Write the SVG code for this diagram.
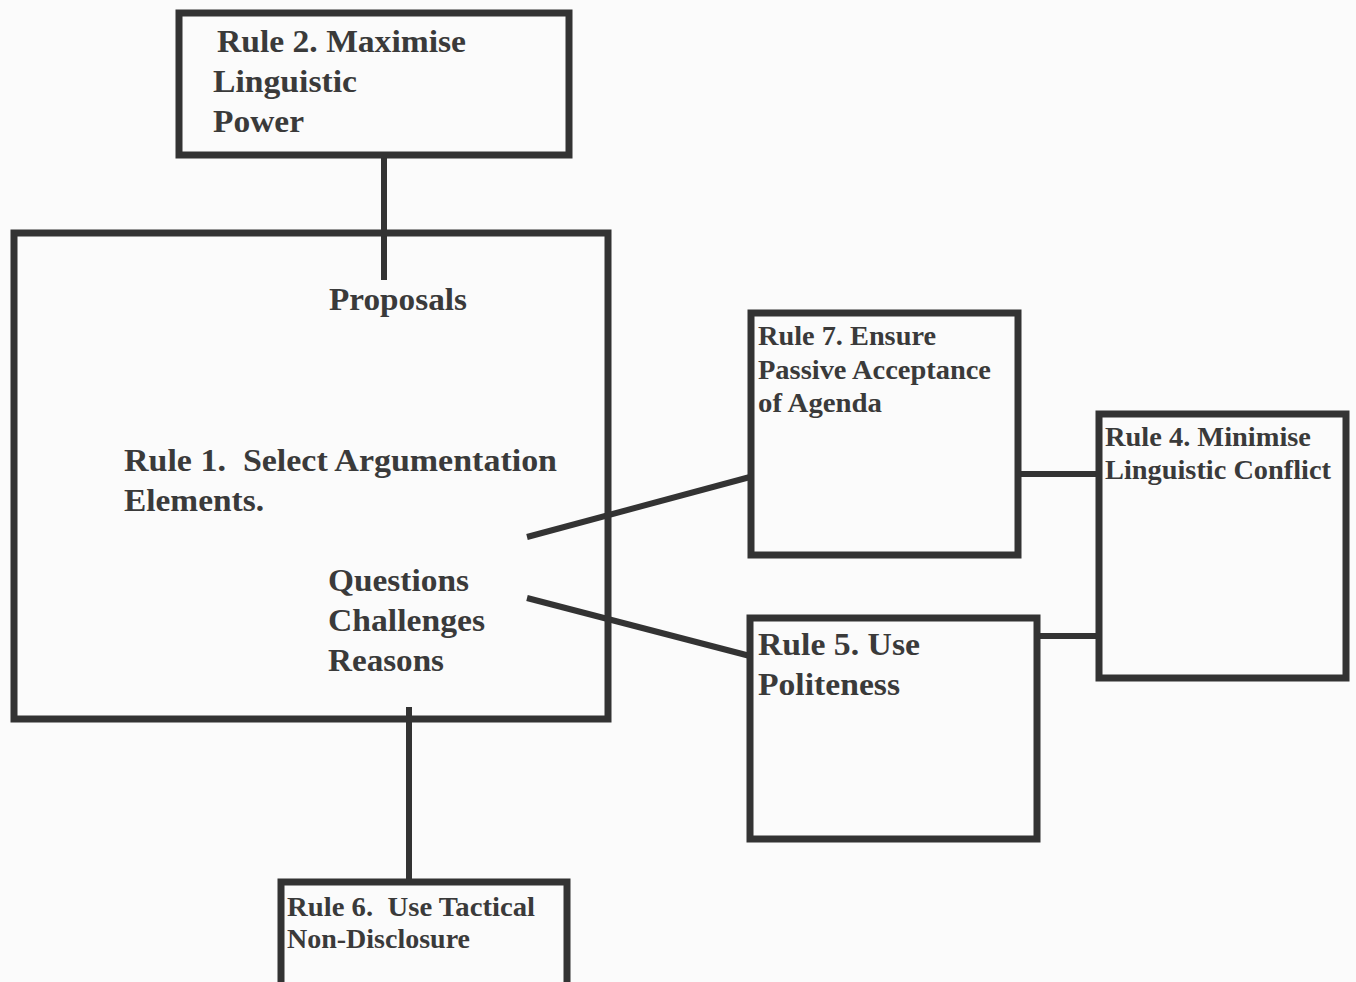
<svg xmlns="http://www.w3.org/2000/svg" width="1356" height="982" viewBox="0 0 1356 982">
<style>
.box{fill:none;stroke:#333;stroke-width:7}
.con{fill:none;stroke:#333;stroke-width:6}
text{font-family:"Liberation Serif","Times New Roman",serif;font-weight:bold;fill:#3a3a3a}
.big{font-size:32px}
.sm{font-size:27px}
</style>
<rect x="0" y="0" width="1356" height="982" fill="#fbfbfb"/>
<g id="connectors">
<line class="con" x1="384" y1="157" x2="384" y2="280"/>
<line class="con" x1="409" y1="707" x2="409" y2="882"/>
<line class="con" x1="527" y1="537" x2="750" y2="477"/>
<line class="con" x1="527" y1="598" x2="750" y2="656"/>
<line class="con" x1="1019" y1="474" x2="1098" y2="474"/>
<line class="con" x1="1038" y1="636" x2="1098" y2="636"/>
</g>
<g id="rule2">
<rect class="box" x="179" y="13" width="390" height="142"/>
<text class="big" x="217" y="52" textLength="249" lengthAdjust="spacingAndGlyphs">Rule 2. Maximise</text>
<text class="big" x="213" y="92" textLength="144" lengthAdjust="spacingAndGlyphs">Linguistic</text>
<text class="big" x="213" y="132" textLength="91" lengthAdjust="spacingAndGlyphs">Power</text>
</g>
<g id="rule1">
<rect class="box" x="14" y="233" width="594" height="486"/>
<text class="big" x="329" y="310" textLength="138" lengthAdjust="spacingAndGlyphs">Proposals</text>
<text class="big" x="124" y="471" xml:space="preserve" textLength="433" lengthAdjust="spacingAndGlyphs">Rule 1.  Select Argumentation</text>
<text class="big" x="124" y="511" textLength="140" lengthAdjust="spacingAndGlyphs">Elements.</text>
<text class="big" x="328" y="591" textLength="141" lengthAdjust="spacingAndGlyphs">Questions</text>
<text class="big" x="328" y="631" textLength="157" lengthAdjust="spacingAndGlyphs">Challenges</text>
<text class="big" x="328" y="671" textLength="116" lengthAdjust="spacingAndGlyphs">Reasons</text>
</g>
<g id="rule7">
<rect class="box" x="751" y="313" width="267" height="242"/>
<text class="sm" x="758" y="345" textLength="178" lengthAdjust="spacingAndGlyphs">Rule 7. Ensure</text>
<text class="sm" x="758" y="379" textLength="233" lengthAdjust="spacingAndGlyphs">Passive Acceptance</text>
<text class="sm" x="758" y="412" textLength="124" lengthAdjust="spacingAndGlyphs">of Agenda</text>
</g>
<g id="rule4">
<rect class="box" x="1099" y="414" width="247" height="264"/>
<text class="sm" x="1105" y="446" textLength="206" lengthAdjust="spacingAndGlyphs">Rule 4. Minimise</text>
<text class="sm" x="1105" y="479" textLength="226" lengthAdjust="spacingAndGlyphs">Linguistic Conflict</text>
</g>
<g id="rule5">
<rect class="box" x="750" y="618" width="287" height="221"/>
<text class="big" x="758" y="655" textLength="162" lengthAdjust="spacingAndGlyphs">Rule 5. Use</text>
<text class="big" x="758" y="695" textLength="142" lengthAdjust="spacingAndGlyphs">Politeness</text>
</g>
<g id="rule6">
<rect class="box" x="281" y="882" width="286" height="120"/>
<text class="sm" x="287" y="916" xml:space="preserve" textLength="248" lengthAdjust="spacingAndGlyphs">Rule 6.  Use Tactical</text>
<text class="sm" x="287" y="948" textLength="183" lengthAdjust="spacingAndGlyphs">Non-Disclosure</text>
</g>
</svg>
